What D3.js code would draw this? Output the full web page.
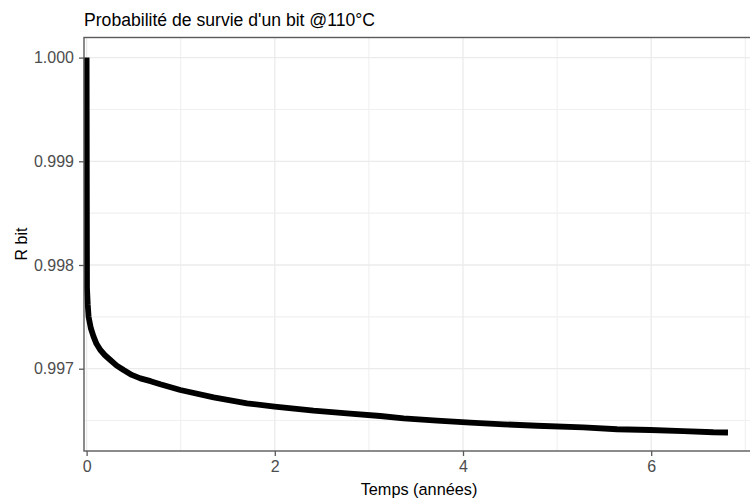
<!DOCTYPE html>
<html><head><meta charset="utf-8">
<script src="https://cdn.jsdelivr.net/npm/d3@7"></script>
<style>body{margin:0;background:#fff}svg{display:block}text{font-family:"Liberation Sans",Arial,sans-serif}</style>
</head><body><svg id="c" width="750" height="502"></svg>
<script>
const title = "Probabilité de survie d'un bit @110°C";
const xLabel = "Temps (années)";
const yLabel = "R bit";
const years = [0, 0.004, 0.012, 0.021, 0.045, 0.074, 0.105, 0.146, 0.195, 0.252, 0.32, 0.393, 0.48, 0.571, 0.68, 0.783, 0.996, 1.35, 1.705, 1.998, 2.412, 2.767, 3.121, 3.369, 3.724, 4.078, 4.431, 4.786, 5.278, 5.637, 5.99, 6.341, 6.66, 6.816];
const rbit  = [1.0, 0.99778, 0.99762, 0.997501, 0.99739, 0.997309, 0.99724, 0.99718, 0.99713, 0.997084, 0.99703, 0.996987, 0.99694, 0.996907, 0.99688, 0.99685, 0.996795, 0.996724, 0.996666, 0.996634, 0.996595, 0.99657, 0.996544, 0.996522, 0.996499, 0.996479, 0.996464, 0.99645, 0.996435, 0.996416, 0.996409, 0.996399, 0.996387, 0.996385];
const xMajor = [0, 2, 4, 6];
const xMinor = [1, 3, 5, 7];
const yMajor = [0.997, 0.998, 0.999, 1.000];
const yMinor = [0.9965, 0.9975, 0.9985, 0.9995];

const svg = d3.select("#c");
const P = {left: 84, top: 37.5, right: 752, bottom: 451};
const x = d3.scaleLinear().domain([0, 7]).range([86.6, 745.3]);
const y = d3.scaleLinear().domain([0.997, 1.0]).range([368.7, 57.6]);

svg.append("rect").attr("x", P.left).attr("y", P.top).attr("width", P.right - P.left).attr("height", P.bottom - P.top).attr("fill", "#fff");
const g = svg.append("g");
g.selectAll(".ymin").data(yMinor).join("line").attr("x1", P.left).attr("x2", P.right).attr("y1", d => y(d)).attr("y2", d => y(d)).attr("stroke", "#f0f0f0").attr("stroke-width", 1.1);
g.selectAll(".xmin").data(xMinor).join("line").attr("y1", P.top).attr("y2", P.bottom).attr("x1", d => x(d)).attr("x2", d => x(d)).attr("stroke", "#f0f0f0").attr("stroke-width", 1.1);
g.selectAll(".ymaj").data(yMajor).join("line").attr("x1", P.left).attr("x2", P.right).attr("y1", d => y(d)).attr("y2", d => y(d)).attr("stroke", "#ebebeb").attr("stroke-width", 1.3);
g.selectAll(".xmaj").data(xMajor).join("line").attr("y1", P.top).attr("y2", P.bottom).attr("x1", d => x(d)).attr("x2", d => x(d)).attr("stroke", "#ebebeb").attr("stroke-width", 1.3);

const pts = years.map((t, i) => [t, rbit[i]]);
svg.append("path").datum(pts)
  .attr("d", d3.line().x(d => x(d[0])).y(d => y(d[1])))
  .attr("fill", "none").attr("stroke", "#000").attr("stroke-width", 5.8)
  .attr("stroke-linejoin", "round").attr("stroke-linecap", "butt");

svg.append("rect").attr("x", P.left).attr("y", P.top).attr("width", P.right - P.left).attr("height", P.bottom - P.top)
  .attr("fill", "none").attr("stroke", "#5a5a5a").attr("stroke-width", 1.4);

// y axis
const ya = svg.append("g").attr("transform", `translate(${P.left},0)`)
  .call(d3.axisLeft(y).tickValues(yMajor).tickFormat(d3.format(".3f")).tickSize(5).tickPadding(5));
ya.select(".domain").remove();
ya.selectAll(".tick line").attr("stroke", "#5a5a5a").attr("stroke-width", 1.3);
ya.selectAll(".tick text").attr("fill", "#4d4d4d").style("font-size", "16px");

// x axis
const xa = svg.append("g").attr("transform", `translate(0,${P.bottom})`)
  .call(d3.axisBottom(x).tickValues(xMajor).tickFormat(d3.format("d")).tickSize(5).tickPadding(5));
xa.select(".domain").remove();
xa.selectAll(".tick line").attr("stroke", "#5a5a5a").attr("stroke-width", 1.3);
xa.selectAll(".tick text").attr("fill", "#4d4d4d").style("font-size", "16px");

svg.append("text").attr("x", 84).attr("y", 26).text(title).style("font-size", "17.6px").attr("fill", "#000");
svg.append("text").attr("x", 419).attr("y", 495).attr("text-anchor", "middle").text(xLabel).style("font-size", "16.3px");
svg.append("text").attr("transform", "translate(27,244) rotate(-90)").attr("text-anchor", "middle").text(yLabel).style("font-size", "16px");
</script></body></html>
